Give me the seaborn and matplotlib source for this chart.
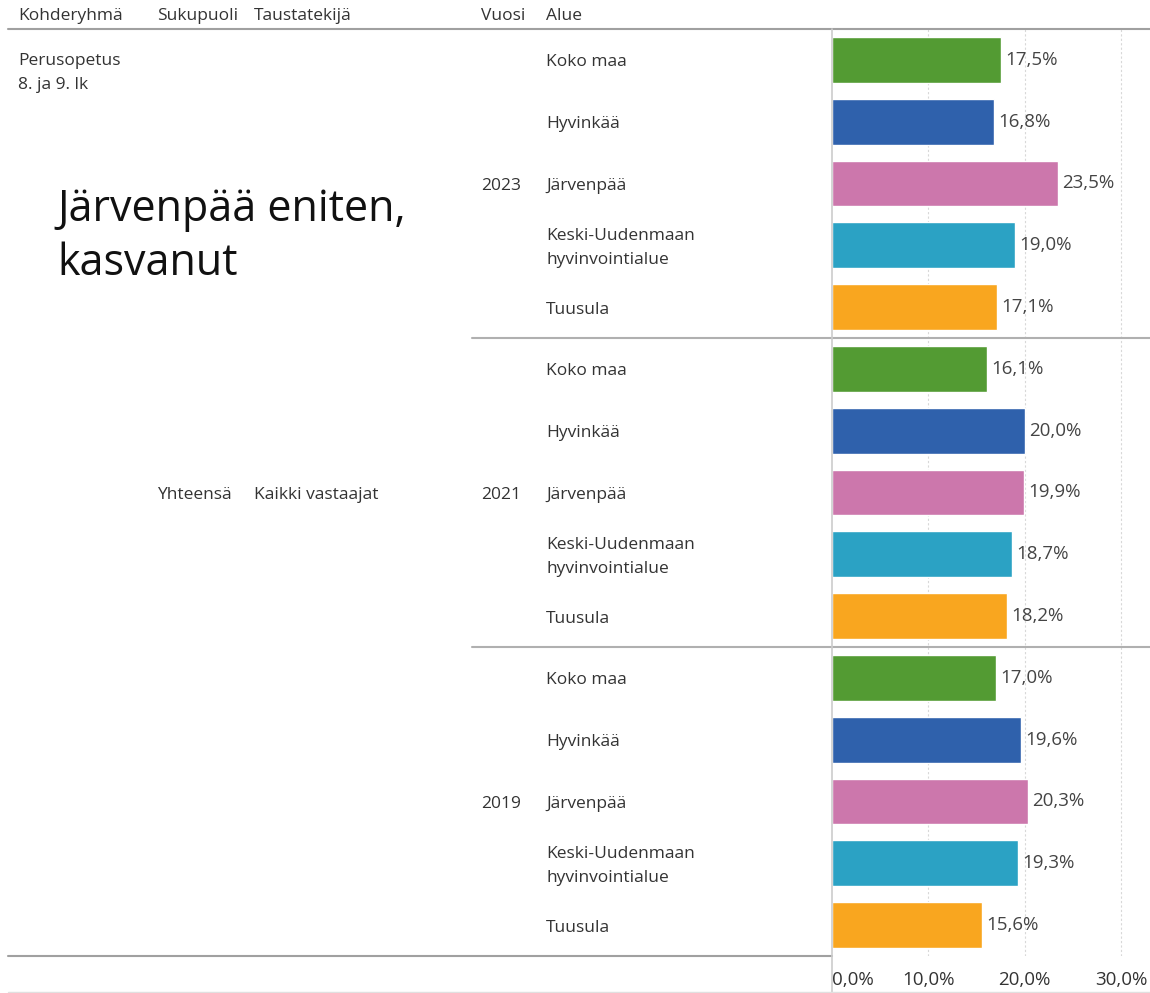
import matplotlib.pyplot as plt
import matplotlib.transforms as mtransforms
import pandas as pd
import seaborn as sns

# Data
years = ['2023', '2021', '2019']
areas = ['Koko maa', 'Hyvinkää', 'Järvenpää', 'Keski-Uudenmaan\nhyvinvointialue', 'Tuusula']
values_2023 = [17.5, 16.8, 23.5, 19.0, 17.1]
values_2021 = [16.1, 20.0, 19.9, 18.7, 18.2]
values_2019 = [17.0, 19.6, 20.3, 19.3, 15.6]
area_colors = ['#539B33', '#2F61AC', '#CC77AC', '#2BA2C4', '#F9A61F']
x_ticks = [0, 10, 20, 30]

rows = []
for year, vals in zip(years, [values_2023, values_2021, values_2019]):
    for area, v in zip(areas, vals):
        rows.append({'row': f'{year} {area}', 'Vuosi': year, 'Alue': area, 'value': v})
df = pd.DataFrame(rows)

sns.set_theme(style='white')
plt.rcParams['font.family'] = ['Open Sans', 'DejaVu Sans']
txt = '#333333'
fs = 12.5
W, H = 1150, 993

fig = plt.figure(figsize=(11.5, 9.93), dpi=100)
ax = fig.add_axes([832 / W, 1 - 956 / H, (W - 832) / W, (956 - 29) / H])

sns.barplot(data=df, x='value', y='row', hue='Alue', palette=area_colors,
            dodge=False, width=0.74, orient='h', legend=False, ax=ax,
            saturation=1)

ax.set_xlim(0, 33)
ax.set_ylim(len(df) - 0.5, -0.5)
ax.set_yticks([])
ax.set_xlabel('')
ax.set_ylabel('')
ax.set_xticks(x_ticks)
ax.set_xticklabels([f'{t},0%' for t in x_ticks], fontsize=13.5, color=txt)
ax.get_xticklabels()[0].set_horizontalalignment('left')
ax.tick_params(axis='x', length=0, pad=11)
for s in ax.spines.values():
    s.set_visible(False)
for t in x_ticks[1:]:
    ax.axvline(t, color='#d8d8d8', lw=0.8, ls=(0, (2, 2)), zorder=0)

# value labels
for i, v in enumerate(df['value']):
    ax.annotate(f'{v:.1f}%'.replace('.', ','), (v, i), xytext=(3, 0),
                textcoords='offset points', va='center', ha='left',
                fontsize=13.5, color='#444444')

# left-side text in figure x / data y coordinates
tr = mtransforms.blended_transform_factory(fig.transFigure, ax.transData)
def fx(px):
    return px / W

for i, (label) in enumerate(df['Alue']):
    ax.text(fx(546), i + 0.04, label, transform=tr, ha='left', va='center',
            fontsize=fs, color=txt, linespacing=1.65)
for g, year in enumerate(years):
    ax.text(fx(481), g * 5 + 2.04, year, transform=tr, ha='left', va='center',
            fontsize=fs, color=txt)

ax.text(fx(157), 7.04, 'Yhteensä', transform=tr, ha='left', va='center', fontsize=fs, color=txt)
ax.text(fx(254), 7.04, 'Kaikki vastaajat', transform=tr, ha='left', va='center', fontsize=fs, color=txt)
fig.text(fx(18), 1 - 53 / H, 'Perusopetus\n8. ja 9. lk', ha='left', va='top',
         fontsize=fs, color=txt, linespacing=1.65)

# header
for px, label in [(18, 'Kohderyhmä'), (157, 'Sukupuoli'), (254, 'Taustatekijä'),
                  (481, 'Vuosi'), (546, 'Alue')]:
    fig.text(fx(px), 1 - 16 / H, label, ha='left', va='center', fontsize=fs, color=txt)

# annotation
fig.text(fx(57), 1 - 237 / H, 'Järvenpää eniten,\nkasvanut', ha='left', va='center',
         fontsize=31, color='#111111', linespacing=1.27)

# lines
line_kw = dict(color='#a0a0a0', lw=1.5, transform=fig.transFigure, clip_on=False)
fig.add_artist(plt.Line2D([fx(8), 1], [1 - 29 / H] * 2, **line_kw))
for b in [4.5, 9.5]:
    ax.plot([fx(472), 1], [b, b], color='#b0b0b0', lw=1.5, transform=tr, clip_on=False)
fig.add_artist(plt.Line2D([fx(8), fx(832)], [1 - 956 / H] * 2, **line_kw))
fig.add_artist(plt.Line2D([fx(832), fx(832)], [1 - 29 / H, 0], color='#cccccc', lw=1.2,
                          transform=fig.transFigure))
fig.add_artist(plt.Line2D([fx(8), 1], [1 - 992 / H] * 2, color='#e0e0e0', lw=1,
                          transform=fig.transFigure))

fig.savefig('out.png', dpi=100)
